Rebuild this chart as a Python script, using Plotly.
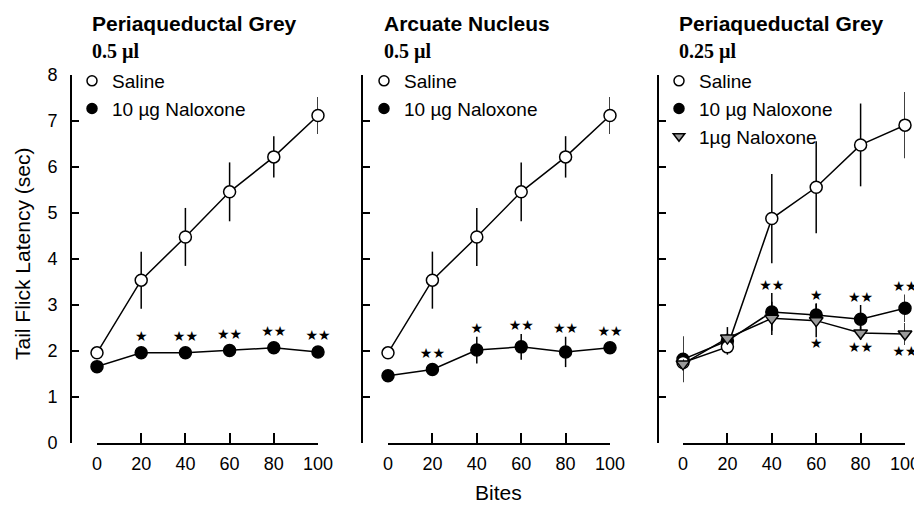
import plotly.graph_objects as go

# page body has an 8px margin: the figure is drawn 8px in from the window edge
OFF = 8
W, H = 922 - OFF, 505 - OFF

bites = [0, 20, 40, 60, 80, 100]

# Panel 1: Periaqueductal Grey 0.5 ul
p1_saline = [1.96, 3.54, 4.48, 5.46, 6.22, 7.12]
p1_saline_err = [0.08, 0.62, 0.63, 0.64, 0.45, 0.40]
p1_nal10 = [1.66, 1.96, 1.96, 2.01, 2.07, 1.98]
p1_nal10_err = [0.06, 0.06, 0.06, 0.06, 0.06, 0.06]
p1_sig = ["", "*", "**", "**", "**", "**"]

# Panel 2: Arcuate Nucleus 0.5 ul
p2_saline = [1.96, 3.54, 4.48, 5.46, 6.22, 7.12]
p2_saline_err = [0.12, 0.62, 0.63, 0.64, 0.45, 0.40]
p2_nal10 = [1.46, 1.60, 2.02, 2.09, 1.98, 2.07]
p2_nal10_err = [0.05, 0.08, 0.29, 0.28, 0.33, 0.06]
p2_sig = ["", "**", "*", "**", "**", "**"]

# Panel 3: Periaqueductal Grey 0.25 ul
p3_saline = [1.75, 2.09, 4.88, 5.56, 6.48, 6.91]
p3_saline_err = [0.10, 0.10, 0.97, 1.00, 0.90, 0.72]
p3_nal10 = [1.82, 2.22, 2.85, 2.78, 2.69, 2.93]
p3_nal10_err = [0.50, 0.30, 0.41, 0.26, 0.31, 0.30]
p3_nal10_sig = ["", "", "**", "*", "**", "**"]
p3_nal1 = [1.72, 2.28, 2.71, 2.66, 2.39, 2.37]
p3_nal1_err = [0.10, 0.10, 0.36, 0.36, 0.15, 0.24]
p3_nal1_sig = ["", "", "", "*", "**", "**"]

titles = ["Periaqueductal Grey", "Arcuate Nucleus", "Periaqueductal Grey"]
volumes = ["0.5 µl", "0.5 µl", "0.25 µl"]
y_ticks = [0, 1, 2, 3, 4, 5, 6, 7, 8]
x_ticks = [0, 20, 40, 60, 80, 100]

SANS = "Liberation Sans, Arial, sans-serif"
SERIF = "Liberation Serif, Times New Roman, serif"


def fx(px):
    return (px - OFF) / W


def fy(py):
    return 1 - (py - OFF) / H


# pixel layout (window coordinates)
panels_px = [  # (y-axis x, x=0 px, x=100 px, title left px)
    (71, 97, 318, 90),
    (362, 388, 610, 382),
    (658, 683, 905, 677),
]
y_bottom_px, y_top_px = 443, 75
ydom = [fy(y_bottom_px), fy(y_top_px)]

fig = go.Figure()

STAR = "\u2605"


def stars(lbls):
    return [s.replace("*", STAR) for s in lbls]


def axes(i):
    return ("x" if i == 0 else f"x{i+1}"), ("y" if i == 0 else f"y{i+1}")


def add_series(i, y, err, symbol, fill, name):
    xa, ya = axes(i)
    fig.add_trace(go.Scatter(
        x=bites, y=y, mode="lines+markers", xaxis=xa, yaxis=ya,
        line=dict(color="black", width=1.5),
        marker=dict(symbol=symbol, size=12, color=fill,
                    line=dict(color="black", width=1.5)),
        error_y=dict(type="data", array=err, visible=True,
                     color="black", thickness=1.5, width=0),
        cliponaxis=False, showlegend=False, name=name,
    ))


def add_legend_item(i, symbol, fill, name, legend):
    xa, ya = axes(i)
    fig.add_trace(go.Scatter(
        x=[None], y=[None], mode="markers", xaxis=xa, yaxis=ya,
        marker=dict(symbol=symbol, size=10, color=fill,
                    line=dict(color="black", width=1.5)),
        name=name, legend=legend, showlegend=True,
    ))


def add_stars(i, y, err, lbls, above=True):
    xa, ya = axes(i)
    if above:
        ys = [max(v + e, v + 0.18) for v, e in zip(y, err)]
        pos = "top center"
    else:
        ys = [min(v - e, v - 0.18) for v, e in zip(y, err)]
        pos = "bottom center"
    fig.add_trace(go.Scatter(
        x=bites, y=ys, mode="text", xaxis=xa, yaxis=ya,
        text=stars(lbls), textposition=pos,
        textfont=dict(size=14, color="black", family="DejaVu Sans"),
        cliponaxis=False, showlegend=False, hoverinfo="skip",
    ))


# panel 1
add_series(0, p1_nal10, p1_nal10_err, "circle", "black", "10 µg Naloxone")
add_series(0, p1_saline, p1_saline_err, "circle", "white", "Saline")
add_stars(0, p1_nal10, p1_nal10_err, p1_sig)
add_legend_item(0, "circle", "white", "Saline", "legend")
add_legend_item(0, "circle", "black", "10 µg Naloxone", "legend")

# panel 2
add_series(1, p2_nal10, p2_nal10_err, "circle", "black", "10 µg Naloxone")
add_series(1, p2_saline, p2_saline_err, "circle", "white", "Saline")
add_stars(1, p2_nal10, p2_nal10_err, p2_sig)
add_legend_item(1, "circle", "white", "Saline", "legend2")
add_legend_item(1, "circle", "black", "10 µg Naloxone", "legend2")

# panel 3
add_series(2, p3_nal10, p3_nal10_err, "circle", "black", "10 µg Naloxone")
add_series(2, p3_saline, p3_saline_err, "circle", "white", "Saline")
add_series(2, p3_nal1, p3_nal1_err, "triangle-down", "#9a9a9a", "1µg Naloxone")
add_stars(2, p3_nal10, p3_nal10_err, p3_nal10_sig, above=True)
add_stars(2, p3_nal1, p3_nal1_err, p3_nal1_sig, above=False)
add_legend_item(2, "circle", "white", "Saline", "legend3")
add_legend_item(2, "circle", "black", "10 µg Naloxone", "legend3")
add_legend_item(2, "triangle-down", "#9a9a9a", "1µg Naloxone", "legend3")

layout = dict(
    width=W, height=H,
    margin=dict(l=0, r=0, t=0, b=0, pad=0, autoexpand=False),
    paper_bgcolor="white", plot_bgcolor="white",
    font=dict(family=SANS, color="black"),
    showlegend=True,
)

annotations = []
for i, (yx, x0, x100, tl) in enumerate(panels_px):
    sfx = "" if i == 0 else str(i + 1)
    layout[f"xaxis{sfx}"] = dict(
        domain=[fx(x0), fx(x100)], range=[0, 100], anchor=f"y{sfx}",
        showline=True, linecolor="black", linewidth=2,
        ticks="inside", ticklen=10, tickwidth=2, tickcolor="black",
        tickvals=x_ticks, ticktext=[str(t) for t in x_ticks],
        tickfont=dict(size=18, family=SANS), ticklabelstandoff=3,
        showgrid=False, zeroline=False, fixedrange=True, automargin=False,
    )
    layout[f"yaxis{sfx}"] = dict(
        domain=ydom, range=[0, 8], anchor="free", position=fx(yx),
        showline=True, linecolor="black", linewidth=2,
        ticks="inside", ticklen=7, tickwidth=2, tickcolor="black",
        tickvals=y_ticks, ticktext=[str(t) for t in y_ticks],
        showticklabels=(i == 0),
        tickfont=dict(size=18, family=SANS), ticklabelstandoff=9,
        showgrid=False, zeroline=False, fixedrange=True, automargin=False,
    )
    legname = "legend" if i == 0 else f"legend{i+1}"
    layout[legname] = dict(
        x=fx(tl - 18), y=fy(62), xanchor="left", yanchor="top",
        bgcolor="rgba(0,0,0,0)", font=dict(size=19, family=SANS),
        tracegroupgap=0, itemclick=False, itemdoubleclick=False,
    )
    annotations.append(dict(
        text=f"<b>{titles[i]}</b>", xref="paper", yref="paper",
        x=fx(tl), y=fy(24), xanchor="left", yanchor="middle",
        showarrow=False, font=dict(size=21, family=SANS),
    ))
    annotations.append(dict(
        text=f"<b>{volumes[i]}</b>", xref="paper", yref="paper",
        x=fx(tl), y=fy(51), xanchor="left", yanchor="middle",
        showarrow=False, font=dict(size=20, family=SERIF),
    ))

annotations.append(dict(
    text="Tail Flick Latency (sec)", xref="paper", yref="paper",
    x=fx(22), y=fy(254), xanchor="center", yanchor="middle",
    textangle=-90, showarrow=False, font=dict(size=21, family=SANS),
))
annotations.append(dict(
    text="Bites", xref="paper", yref="paper",
    x=fx(498), y=fy(492), xanchor="center", yanchor="middle",
    showarrow=False, font=dict(size=21, family=SANS),
))
layout["annotations"] = annotations

fig.update_layout(**layout)
fig.write_html("out.html")
